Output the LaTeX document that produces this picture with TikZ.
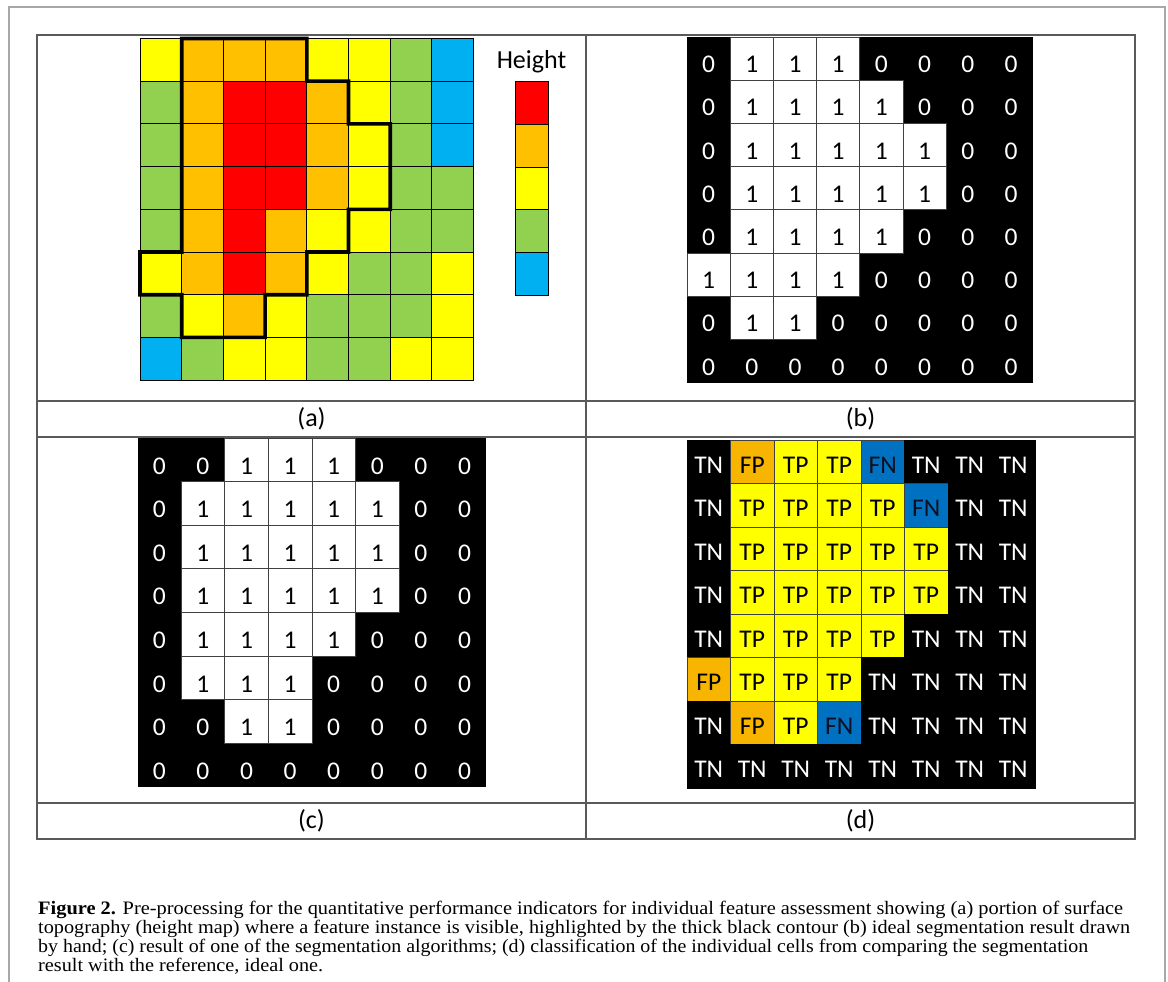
\documentclass[tikz,border=0pt]{standalone}
\usepackage{fontspec}
\setmainfont{Liberation Serif}
\newfontfamily\calfont{Carlito}
\newfontfamily\capfont{Liberation Serif}
\usetikzlibrary{calc}

\definecolor{cY}{HTML}{FFFF00}
\definecolor{cO}{HTML}{FFC000}
\definecolor{cR}{HTML}{FF0000}
\definecolor{cG}{HTML}{92D050}
\definecolor{cB}{HTML}{00B0F0}
\definecolor{dTN}{HTML}{000000}
\definecolor{dTP}{HTML}{FFFF00}
\definecolor{dFP}{HTML}{F7B500}
\definecolor{dFN}{HTML}{0070C0}
\definecolor{tTN}{HTML}{FFFFFF}
\definecolor{tTP}{HTML}{000000}
\definecolor{tFP}{HTML}{000000}
\definecolor{tFN}{HTML}{101020}
\definecolor{eTN}{HTML}{000000}
\definecolor{eTP}{HTML}{404040}
\definecolor{eFP}{HTML}{404040}
\definecolor{eFN}{HTML}{404040}
\definecolor{tline}{HTML}{5A5A5A}
\definecolor{fline}{HTML}{A8A8A8}

\newlength\capw
\newcommand\capline[2]{\settowidth\capw{#2}\pgfmathsetmacro\capr{#1/\capw}\scalebox{\capr}[1]{#2}}

\begin{document}
\begin{tikzpicture}[x=1pt,y=-1pt,
  acell/.style={draw=black, line width=0.9pt, minimum width=41.7pt, minimum height=42.7pt, inner sep=0pt, outer sep=0pt},
  lcell/.style={draw=black, line width=0.9pt, minimum width=33pt, minimum height=42.7pt, inner sep=0pt, outer sep=0pt},
  bcell/.style={minimum width=43.2pt, minimum height=43.2pt, inner sep=0pt, outer sep=0pt, font=\calfont\fontsize{25.5}{25.5}\selectfont, text height=28pt, text depth=0pt},
  ccell/.style={minimum width=43.6pt, minimum height=43.6pt, inner sep=0pt, outer sep=0pt, font=\calfont\fontsize{25.5}{25.5}\selectfont, text height=28.6pt, text depth=0pt},
  dcell/.style={minimum width=43.5pt, minimum height=43.5pt, inner sep=0pt, outer sep=0pt, line width=0.8pt, font=\calfont\fontsize{25.5}{25.5}\selectfont, text height=22.5pt, text depth=0pt},
  onecell/.style={fill=white, draw=black!75, line width=0.8pt, text=black},
  zerocell/.style={text=white},
  bgbox/.style={fill=black, inner sep=0pt, outer sep=0pt, anchor=north west},
  lab/.style={font=\calfont\fontsize{26}{26}\selectfont, inner sep=0pt},
  capl/.style={anchor=base west, inner sep=0pt, font=\capfont\fontsize{19}{19}\selectfont}
]
\useasboundingbox (0,0) rectangle (1168,982);
\fill[white] (0,0) rectangle (1168,982);

% outer frame
\draw[fline, line width=2pt] (9,982) -- (9,7) -- (1165,7) -- (1165,982);

% table
\draw[tline, line width=1.5pt] (37,35) rectangle (1135,839);
\draw[tline, line width=1.5pt] (37,401) -- (1135,401);
\draw[tline, line width=1.5pt] (37,437) -- (1135,437);
\draw[tline, line width=1.5pt] (37,803) -- (1135,803);
\draw[tline, line width=1.5pt] (586,35) -- (586,839);

% panel (a): height map
\foreach \row [count=\r from 0] in {{Y,O,O,O,Y,Y,G,B},{G,O,R,R,O,Y,G,B},{G,O,R,R,O,Y,G,B},{G,O,R,R,O,Y,G,G},{G,O,R,O,Y,Y,G,G},{Y,O,R,O,Y,G,G,Y},{G,Y,O,Y,G,G,G,Y},{B,G,Y,Y,G,G,Y,Y}}
  \foreach \cc [count=\k from 0] in \row
    \node[acell, fill=c\cc] (a-\r-\k) at ({140+41.7*(\k+0.5)},{38.5+42.7*(\r+0.5)}) {};

\draw[line width=3.6pt, line join=miter]
  (a-0-1.north west) -- (a-0-3.north east) -- (a-0-3.south east) -- (a-1-4.north east)
  -- (a-1-4.south east) -- (a-2-5.north east) -- (a-3-5.south east) -- (a-3-5.south west)
  -- (a-4-4.south east) -- (a-4-4.south west) -- (a-5-3.south east) -- (a-5-3.south west)
  -- (a-6-2.south east) -- (a-6-1.south west) -- (a-6-1.north west) -- (a-5-0.south west)
  -- (a-5-0.north west) -- (a-5-0.north east) -- cycle;

% legend
\node[font=\calfont\fontsize{26}{26}\selectfont, anchor=base, inner sep=0pt] (hlabel) at (531.5,69) {Height};
\foreach \cc [count=\i from 0] in {R,O,Y,G,B}
  \node[lcell, fill=c\cc] (leg-\i) at (531.5,{81.7+42.7*(\i+0.5)}) {};

% panel (b): ideal segmentation
\node[bgbox, minimum width=345.6pt, minimum height=345.6pt] (b-bg) at (687,37) {};
\foreach \row [count=\r from 0] in {{0,1,1,1,0,0,0,0},{0,1,1,1,1,0,0,0},{0,1,1,1,1,1,0,0},{0,1,1,1,1,1,0,0},{0,1,1,1,1,0,0,0},{1,1,1,1,0,0,0,0},{0,1,1,0,0,0,0,0},{0,0,0,0,0,0,0,0}}
  \foreach \v [count=\k from 0] in \row {
    \ifnum\v=1
      \node[bcell, onecell] (b-\r-\k) at ({687+43.2*(\k+0.5)},{37+43.2*(\r+0.5)}) {1};
    \else
      \node[bcell, zerocell] (b-\r-\k) at ({687+43.2*(\k+0.5)},{37+43.2*(\r+0.5)}) {0};
    \fi
  };

% panel (c): algorithm result
\node[bgbox, minimum width=348.8pt, minimum height=348.8pt] (c-bg) at (137.5,438) {};
\foreach \row [count=\r from 0] in {{0,0,1,1,1,0,0,0},{0,1,1,1,1,1,0,0},{0,1,1,1,1,1,0,0},{0,1,1,1,1,1,0,0},{0,1,1,1,1,0,0,0},{0,1,1,1,0,0,0,0},{0,0,1,1,0,0,0,0},{0,0,0,0,0,0,0,0}}
  \foreach \v [count=\k from 0] in \row {
    \ifnum\v=1
      \node[ccell, onecell] (c-\r-\k) at ({137.5+43.6*(\k+0.5)},{438+43.6*(\r+0.5)}) {1};
    \else
      \node[ccell, zerocell] (c-\r-\k) at ({137.5+43.6*(\k+0.5)},{438+43.6*(\r+0.5)}) {0};
    \fi
  };

% panel (d): classification
\node[bgbox, minimum width=348pt, minimum height=348pt] (d-bg) at (687,440) {};
\foreach \row [count=\r from 0] in {{TN,FP,TP,TP,FN,TN,TN,TN},{TN,TP,TP,TP,TP,FN,TN,TN},{TN,TP,TP,TP,TP,TP,TN,TN},{TN,TP,TP,TP,TP,TP,TN,TN},{TN,TP,TP,TP,TP,TN,TN,TN},{FP,TP,TP,TP,TN,TN,TN,TN},{TN,FP,TP,FN,TN,TN,TN,TN},{TN,TN,TN,TN,TN,TN,TN,TN}}
  \foreach \v [count=\k from 0] in \row
    \node[dcell, fill=d\v, draw=e\v, text=t\v] (d-\r-\k) at ({687+43.5*(\k+0.5)},{440+43.5*(\r+0.5)}) {\v};

% panel labels
\node[lab] (la) at (311.5,419) {(a)};
\node[lab] (lb) at (860.5,419) {(b)};
\node[lab] (lc) at (311.5,821) {(c)};
\node[lab] (ld) at (860.5,821) {(d)};

% caption
\node[capl] (cap1) at (38,914) {\capline{1085}{\textbf{Figure 2.} Pre-processing for the quantitative performance indicators for individual feature assessment showing (a) portion of surface}};
\node[capl] (cap2) at (38,933) {\capline{1092}{topography (height map) where a feature instance is visible, highlighted by the thick black contour (b) ideal segmentation result drawn}};
\node[capl] (cap3) at (38,952) {\capline{1050}{by hand; (c) result of one of the segmentation algorithms; (d) classification of the individual cells from comparing the segmentation}};
\node[capl] (cap4) at (38,971) {\capline{285}{result with the reference, ideal one.}};
\end{tikzpicture}
\end{document}
